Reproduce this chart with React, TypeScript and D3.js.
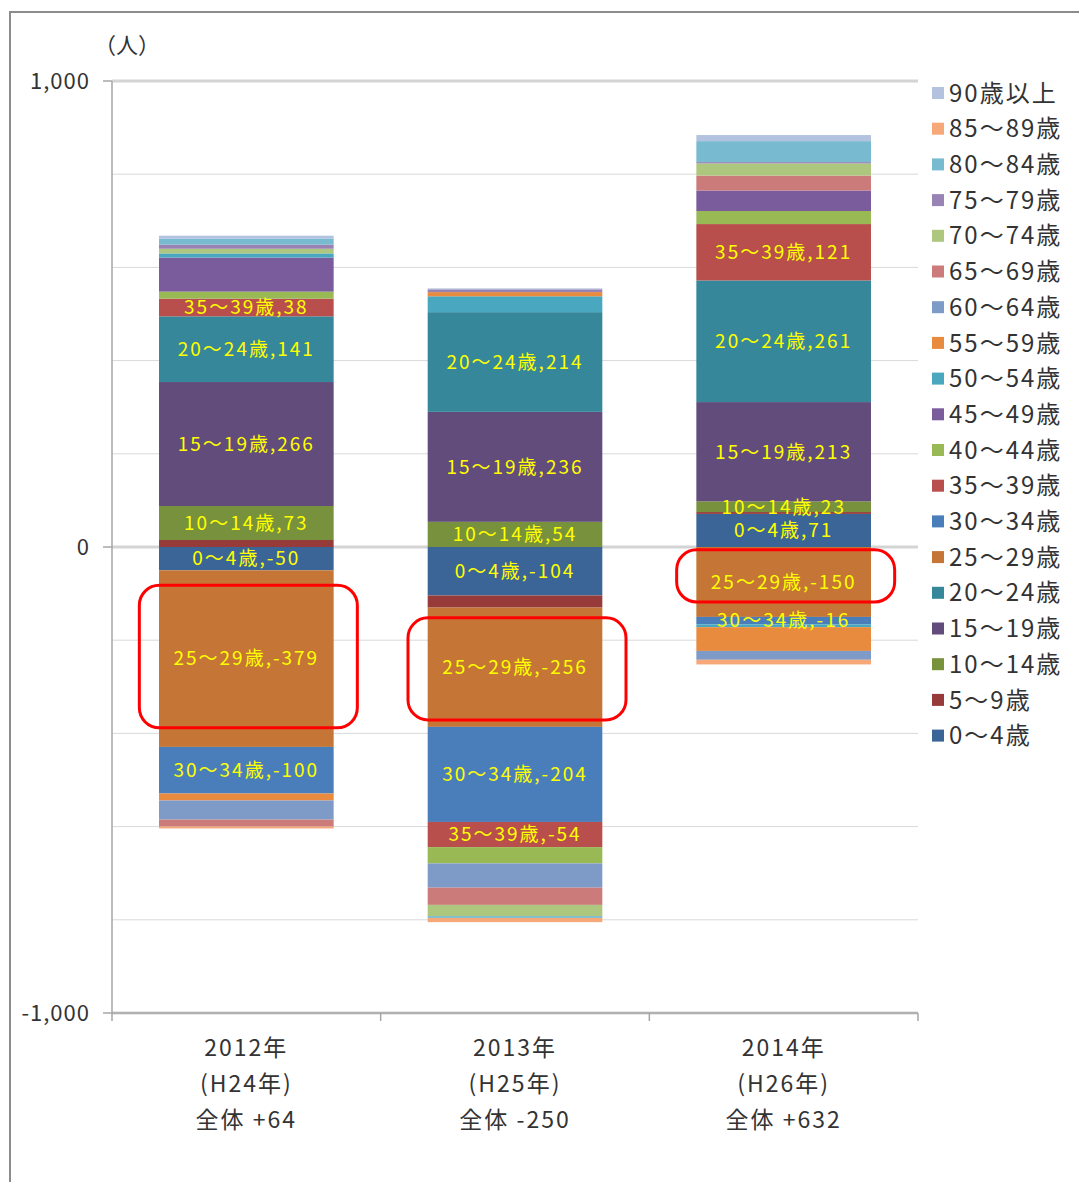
import * as React from 'react';
import { useEffect, useRef } from 'react';
import * as d3 from 'd3';

// Data
const years = ['2012', '2013', '2014'];
const yearLabels = ['2012年', '2013年', '2014年'];
const eraLabels = ['(H24年)', '(H25年)', '(H26年)'];
const totalLabels = ['全体 +64', '全体 -250', '全体 +632'];

const ageGroups = [
  '0～4歳', '5～9歳', '10～14歳', '15～19歳', '20～24歳', '25～29歳', '30～34歳',
  '35～39歳', '40～44歳', '45～49歳', '50～54歳', '55～59歳', '60～64歳', '65～69歳',
  '70～74歳', '75～79歳', '80～84歳', '85～89歳', '90歳以上',
];

const ageColors = [
  '#3b6597', '#963b39', '#78913d', '#624c7c', '#358799', '#c57535', '#4a7ebb',
  '#b84f4c', '#98b954', '#7a5c9c', '#4aa7c0', '#e98b3e', '#7e9bc8', '#cb7c7a',
  '#aec77e', '#9983b5', '#78bbd0', '#f7a878', '#b3c3df',
];

// net migration per age group, same order as ageGroups
const values2012 = [-50, 15, 73, 266, 141, -379, -100, 38, 15, 73, 9, -15, -41, -15, 10, 9, 13, -4, 6];
const values2013 = [-104, -26, 54, 236, 214, -256, -204, -54, -35, 0, 34, 9, -52, -37, -24, 6, -4, -9, 2];
const values2014 = [71, 4, 23, 213, 261, -150, -16, 121, 28, 44, -6, -51, -19, 32, 26, 3, 45, -10, 13];

const labeledGroups = ['0～4歳', '10～14歳', '15～19歳', '20～24歳', '25～29歳', '30～34歳', '35～39歳'];

// highlighted 25~29 boxes (value range)
const highlightTop = [-82, -152, -6];
const highlightBottom = [-388, -371, -118];

const yTicksMajor = [1000, 0, -1000];
const yTickLabels = ['1,000', '0', '-1,000'];
const yGridMinor = [800, 600, 400, 200, -200, -400, -600, -800];

const FONT = '"Noto Sans CJK JP", "Noto Sans", sans-serif';

const Chart: React.FC<{ width: number; height: number }> = ({ width, height }) => {
  const svgRef = useRef(null);

  useEffect(() => {
    const svg = d3.select(svgRef.current);
    svg.selectAll('*').remove();

    const plot = { left: 112, right: 918, top: 81, bottom: 1013 };

    const x = d3.scaleBand().domain(years).range([plot.left, plot.right])
      .paddingInner(0.35).paddingOuter(0.175);
    const y = d3.scaleLinear().domain([-1000, 1000]).range([plot.bottom, plot.top]);

    const allValues = [values2012, values2013, values2014];
    const rows = years.map((yr, i) => {
      const row: any = { year: yr };
      ageGroups.forEach((g, j) => { row[g] = allValues[i][j]; });
      return row;
    });

    const stack = d3.stack<any>().keys(ageGroups).offset(d3.stackOffsetDiverging);
    const series = stack(rows);

    // outer frame
    svg.append('rect')
      .attr('x', 10).attr('y', 12)
      .attr('width', 1200).attr('height', 1300)
      .attr('fill', '#fff')
      .attr('stroke', '#8c8c8c')
      .attr('stroke-width', 2);

    // gridlines
    svg.append('g').selectAll('line').data(yGridMinor).enter().append('line')
      .attr('x1', plot.left).attr('x2', plot.right)
      .attr('y1', d => y(d)).attr('y2', d => y(d))
      .attr('stroke', '#d9d9d9').attr('stroke-width', 1);
    svg.append('g').selectAll('line').data(yTicksMajor).enter().append('line')
      .attr('x1', plot.left).attr('x2', plot.right)
      .attr('y1', d => y(d)).attr('y2', d => y(d))
      .attr('stroke', '#d4d4d4').attr('stroke-width', 3);

    // bars
    const layers = svg.append('g').selectAll('g').data(series).enter().append('g')
      .attr('fill', (_, i) => ageColors[i]);
    layers.selectAll('rect').data(d => d).enter().append('rect')
      .attr('x', d => x(d.data.year) as number)
      .attr('width', x.bandwidth())
      .attr('y', d => y(Math.max(d[0], d[1])))
      .attr('height', d => Math.abs(y(d[0]) - y(d[1])));

    // data labels
    const labelG = svg.append('g')
      .attr('font-family', FONT)
      .attr('font-size', 19)
      .attr('fill', '#ffff00')
      .attr('text-anchor', 'middle');
    series.forEach((s) => {
      if (!labeledGroups.includes(s.key)) return;
      s.forEach((d) => {
        const v = d.data[s.key];
        labelG.append('text')
          .attr('x', (x(d.data.year) as number) + x.bandwidth() / 2)
          .attr('y', (y(d[0]) + y(d[1])) / 2)
          .attr('dy', '0.36em')
          .attr('letter-spacing', 2)
          .text(`${s.key},${v}`);
      });
    });

    // y axis
    svg.append('line')
      .attr('x1', plot.left).attr('x2', plot.left)
      .attr('y1', plot.top).attr('y2', plot.bottom)
      .attr('stroke', '#a6a6a6').attr('stroke-width', 1.5);
    svg.append('g').selectAll('line').data(yTicksMajor).enter().append('line')
      .attr('x1', plot.left - 9).attr('x2', plot.left)
      .attr('y1', d => y(d)).attr('y2', d => y(d))
      .attr('stroke', '#a6a6a6').attr('stroke-width', 1.5);
    svg.append('g').selectAll('text').data(yTicksMajor).enter().append('text')
      .attr('x', 90).attr('y', d => y(d)).attr('dy', '0.35em')
      .attr('text-anchor', 'end')
      .attr('font-family', FONT).attr('font-size', 22).attr('fill', '#333')
      .attr('letter-spacing', 1)
      .text((_, i) => yTickLabels[i]);

    svg.append('text')
      .attr('x', 94).attr('y', 53)
      .attr('font-family', FONT).attr('font-size', 22).attr('fill', '#333')
      .text('（人）');

    // x axis
    svg.append('line')
      .attr('x1', plot.left).attr('x2', plot.right)
      .attr('y1', plot.bottom).attr('y2', plot.bottom)
      .attr('stroke', '#a6a6a6').attr('stroke-width', 1.5);
    const step = x.step();
    const boundaries = d3.range(years.length + 1).map(i => plot.left + i * step);
    svg.append('g').selectAll('line').data(boundaries).enter().append('line')
      .attr('x1', d => d).attr('x2', d => d)
      .attr('y1', plot.bottom).attr('y2', plot.bottom + 8)
      .attr('stroke', '#a6a6a6').attr('stroke-width', 1.5);

    const catG = svg.append('g')
      .attr('font-family', FONT).attr('font-size', 23).attr('fill', '#333')
      .attr('text-anchor', 'middle').attr('letter-spacing', 2);
    years.forEach((yr, i) => {
      const cx = (x(yr) as number) + x.bandwidth() / 2;
      [yearLabels[i], eraLabels[i], totalLabels[i]].forEach((t, k) => {
        catG.append('text')
          .attr('x', cx).attr('y', 1056 + k * 36)
          .text(t);
      });
    });

    // highlight boxes around 25~29
    svg.append('g').selectAll('rect').data(years).enter().append('rect')
      .attr('x', d => (x(d) as number) + x.bandwidth() / 2 - 107)
      .attr('width', 218)
      .attr('y', (_, i) => y(highlightTop[i]))
      .attr('height', (_, i) => y(highlightBottom[i]) - y(highlightTop[i]))
      .attr('rx', 20).attr('ry', 20)
      .attr('fill', 'none')
      .attr('stroke', '#ff0000')
      .attr('stroke-width', 3);

    // legend (reverse order)
    const legendItems = ageGroups.map((g, i) => ({ name: g, color: ageColors[i] })).reverse();
    const legend = svg.append('g')
      .attr('font-family', FONT).attr('font-size', 24).attr('fill', '#333')
      .selectAll('g').data(legendItems).enter().append('g')
      .attr('transform', (_, i) => `translate(932,${93 + i * 35.7})`);
    legend.append('rect')
      .attr('x', 0).attr('y', -6)
      .attr('width', 12).attr('height', 12)
      .attr('fill', d => d.color);
    legend.append('text')
      .attr('x', 17).attr('y', 0).attr('dy', '0.36em')
      .attr('letter-spacing', 2)
      .text(d => d.name);
  }, [width, height]);

  return (
    <svg ref={svgRef} width={width} height={height}
      style={{ position: 'absolute', left: 0, top: 0, display: 'block' }} />
  );
};

export default function App() {
  return <Chart width={1079} height={1182} />;
}
